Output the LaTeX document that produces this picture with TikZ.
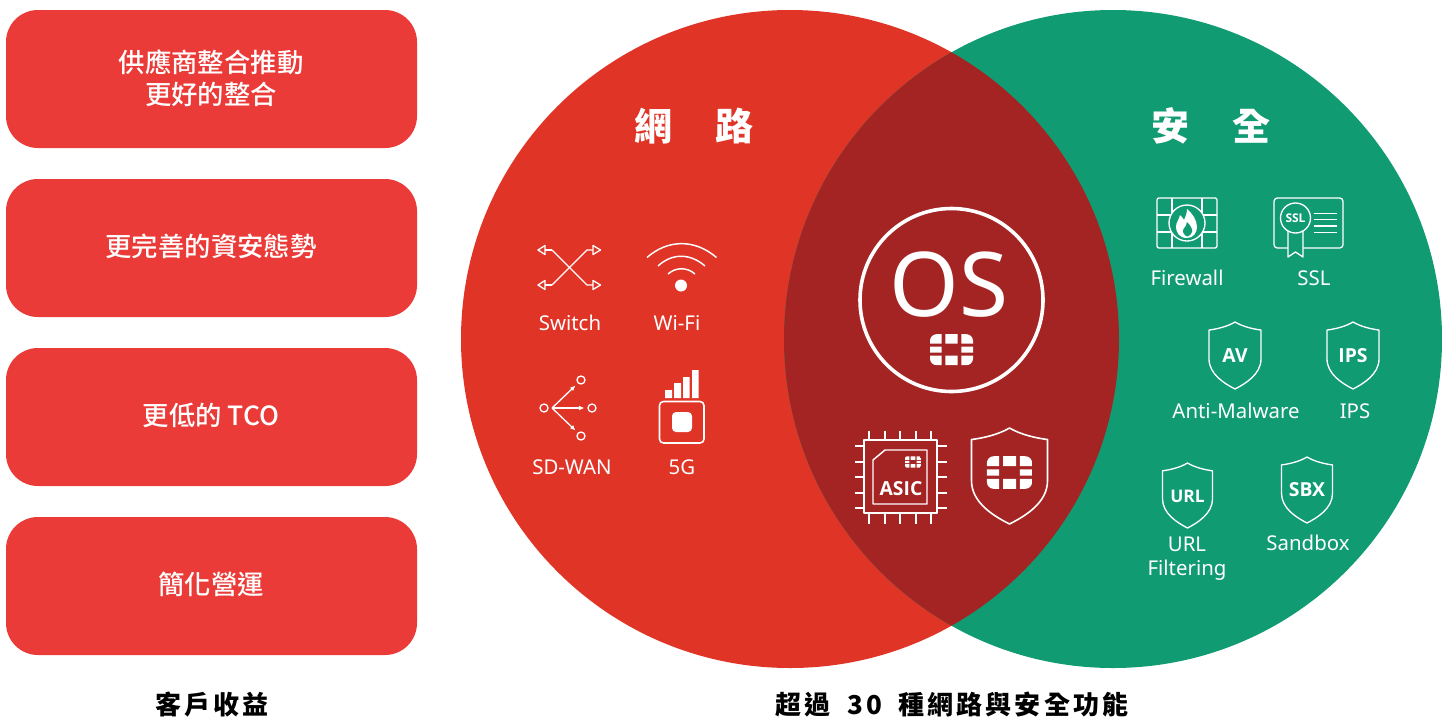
\documentclass[tikz,border=0pt]{standalone}
\usetikzlibrary{arrows.meta}
\usepackage{fontspec}
\setmainfont{Noto Sans}
\newfontfamily\iconbold{Open Sans}
\newfontfamily\cjk{Noto Sans CJK TC}
\newfontfamily\cjkmed{Noto Sans CJK TC Medium}
\newfontfamily\cjksp[LetterSpace=12]{Noto Sans CJK TC}
\definecolor{boxred}{HTML}{EA3B38}
\definecolor{netred}{HTML}{E03426}
\definecolor{secgreen}{HTML}{109B72}
\definecolor{osred}{HTML}{A32423}
\tikzset{
  benefit/.style={fill=boxred,rounded corners=24pt},
  benefittext/.style={text=white,align=center,font=\cjkmed\fontsize{19.8}{24}\selectfont},
  heading/.style={text=white,font=\cjk\fontsize{28.5}{32}\selectfont\bfseries},
  caption/.style={text=black,font=\cjksp\fontsize{19.5}{22}\selectfont\bfseries},
  iconlabel/.style={text=white,align=center,font=\fontsize{15.3}{18}\selectfont},
  iconline/.style={draw=white,line width=1pt,line join=round},
  shieldtext/.style={text=white,font=\iconbold\fontsize{14.5}{16}\selectfont\bfseries}
}
% centre x, centre y, scale, corner radius
\newcommand\fortlogo[4]{%
  \begin{scope}[shift={(#1,#2)},scale=#3]
    \begin{scope}
      \clip[rounded corners=#4] (-21.5,-15.5) rectangle (21.5,15.5);
      \fill[white] (-21.5,-15.5) rectangle (-9.8,-6) (-6.2,-15.5) rectangle (6.2,-6) (9.8,-15.5) rectangle (21.5,-6);
      \fill[white] (-21.5,-3) rectangle (-9.8,3) (9.8,-3) rectangle (21.5,3);
      \fill[white] (-21.5,6) rectangle (-9.8,15.5) (-6.2,6) rectangle (6.2,15.5) (9.8,6) rectangle (21.5,15.5);
    \end{scope}
  \end{scope}}
% centre x, top y, half width, height, line width
\newcommand\shieldicon[5]{%
  \begin{scope}[shift={(#1,#2)},xscale=#3,yscale=#4]
    \draw[white,line width=#5,line join=round]
      (0,0) .. controls (0.3,0.07) and (0.7,0.105) .. (1,0.12)
      -- (1,0.55) .. controls (1,0.78) and (0.4,0.92) .. (0,1)
      .. controls (-0.4,0.92) and (-1,0.78) .. (-1,0.55)
      -- (-1,0.12) .. controls (-0.7,0.105) and (-0.3,0.07) .. (0,0) -- cycle;
  \end{scope}}
\begin{document}
\begin{tikzpicture}[x=0.75pt,y=-0.75pt]
\useasboundingbox (0,0) rectangle (1442,719);
% benefit boxes
\fill[benefit] (6,10) rectangle (417,148);
\fill[benefit] (6,179) rectangle (417,317);
\fill[benefit] (6,348) rectangle (417,486);
\fill[benefit] (6,517) rectangle (417,655);
\node[benefittext] (b1) at (211,78) {供應商整合推動\\更好的整合};
\node[benefittext] (b2) at (211,246) {更完善的資安態勢};
\node[benefittext] (b3) at (211,415) {更低的 TCO};
\node[benefittext] (b4) at (211,584) {簡化營運};
\node[caption] (c1) at (212,705) {客戶收益};
\node[caption] (c2) at (952,705) {超過\hspace{5.5pt} 30 \hspace{5.5pt}種網路與安全功能};
% venn
\fill[netred] (790,339) circle [radius=329];
\fill[secgreen] (1113,339) circle [radius=329];
\begin{scope}
  \clip (790,339) circle [radius=329];
  \fill[osred] (1113,339) circle [radius=329];
\end{scope}
\node[heading] (net) at (694,126) {網\hspace{32.5pt}路};
\node[heading] (sec) at (1211,126) {安\hspace{32pt}全};
% Switch
\draw[iconline] (552,250) -- (587,285) -- (593,285);
\draw[iconline] (552,285) -- (587,250) -- (593,250);
\draw[iconline] (545,250) -- (552,250);
\draw[iconline] (545,285) -- (552,285);
\draw[iconline] (545,245.5) -- (538,250) -- (545,254.5) -- cycle;
\draw[iconline] (545,280.5) -- (538,285) -- (545,289.5) -- cycle;
\draw[iconline] (593,245.5) -- (600.5,250) -- (593,254.5) -- cycle;
\draw[iconline] (593,280.5) -- (600.5,285) -- (593,289.5) -- cycle;
\node[iconlabel] (switch) at (570,323) {Switch};
% WiFi
\draw[iconline,line width=1.1pt] (647,257.5) .. controls (668,239) and (695,239) .. (716.5,257.5);
\draw[iconline,line width=1.1pt] (658,266) .. controls (672,253) and (690,253) .. (705,266);
\draw[iconline,line width=1.1pt] (668,274) .. controls (676,267) and (687,267) .. (695,274);
\fill[white] (681,285.5) circle [radius=6];
\node[iconlabel] (wifi) at (677,323) {Wi-Fi};
% SD-WAN
\draw[iconline] (544,408) circle [radius=4];
\draw[iconline] (592,408) circle [radius=4];
\draw[iconline] (581,380) circle [radius=4];
\draw[iconline] (581,436) circle [radius=4];
\draw[iconline,-{Latex[length=4pt,width=3.5pt]}] (552,408) -- (575.5,385.5);
\draw[iconline,-{Latex[length=4pt,width=3.5pt]}] (552,408) -- (584.5,408);
\draw[iconline,-{Latex[length=4pt,width=3.5pt]}] (552,408) -- (575.5,430.5);
\node[iconlabel] (sdwan) at (572,467) {SD-WAN};
% 5G
\fill[white] (665,390) rectangle (672,398) (674,383) rectangle (681,398) (683,377) rectangle (689.5,398) (692,370) rectangle (698.5,398);
\draw[white,line width=1.2pt,rounded corners=3pt] (659.5,401.5) rectangle (704,443);
\fill[white,rounded corners=3pt] (672,412) rectangle (692,432);
\node[iconlabel] (fiveg) at (682,467) {5G};
% OS
\draw[white,line width=2.7pt] (951.5,300) circle [radius=91.5];
\node[text=white,font=\fontsize{67}{70}\selectfont] (os) at (949,285) {OS};
\fortlogo{951.5}{349.7}{1}{5pt}
% ASIC
\draw[iconline,line width=1.1pt] (864,440) rectangle (937,513);
\foreach \x in {869,885,900,916,931}{
  \draw[iconline,line width=1.1pt] (\x,431) -- (\x,440) (\x,513) -- (\x,524);}
\foreach \y in {446,462,477,493,508}{
  \draw[iconline,line width=1.1pt] (855,\y) -- (864,\y) (937,\y) -- (947,\y);}
\draw[iconline,line width=1.1pt] (873,460) -- (885,450) -- (927,450) -- (927,504) -- (873,504) -- cycle;
\node[shieldtext] (asic) at (901,489) {ASIC};
\fortlogo{913}{462}{0.37}{1.5pt}
% big shield
\shieldicon{1009.5}{428}{38}{96}{1.2pt}
\fortlogo{1009.5}{472.5}{1.05}{5pt}
% Firewall
\draw[iconline,rounded corners=1.5pt] (1157,198) rectangle (1217,248);
\draw[iconline] (1172,198) -- (1172,248) (1202,198) -- (1202,248) (1157,215) -- (1217,215) (1157,232) -- (1217,232);
\draw[iconline,fill=secgreen] (1187,223) circle [radius=18];
\fill[white] (1187,238) .. controls (1179,238) and (1176,232) .. (1176,227)
  .. controls (1176,222) and (1179,220) .. (1180,215)
  .. controls (1182,217) and (1183,218) .. (1184,220)
  .. controls (1186,216) and (1187,212) .. (1187,209)
  .. controls (1192,213) and (1197,220) .. (1197,227)
  .. controls (1197,233) and (1193,238) .. (1187,238) -- cycle;
\fill[secgreen] (1187,236.5) .. controls (1184,235) and (1182,232) .. (1183.5,229)
  .. controls (1185,227) and (1187,225) .. (1187,222)
  .. controls (1190,225) and (1193,229) .. (1192,232)
  .. controls (1191.5,234.5) and (1189.5,236) .. (1187,236.5) -- cycle;
\node[iconlabel] (firewall) at (1187,278) {Firewall};
% SSL
\draw[iconline,rounded corners=2.5pt] (1274,198) rectangle (1343,248);
\draw[iconline,fill=secgreen] (1288,228) -- (1288,257) -- (1295.5,252) -- (1303,257) -- (1303,228);
\draw[iconline,fill=secgreen] (1295.5,218) circle [radius=15];
\node[text=white,font=\iconbold\fontsize{9}{10}\selectfont\bfseries] (ssltxt) at (1295.5,218) {SSL};
\draw[iconline,line width=.9pt] (1314,213.3) -- (1337,213.3) (1314,219.7) -- (1337,219.7) (1314,226) -- (1337,226) (1314,232.3) -- (1337,232.3);
\node[iconlabel] (ssl) at (1314,278) {SSL};
% security shields
\shieldicon{1235}{322}{26}{67}{1pt}
\node[shieldtext] (av) at (1235,356) {AV};
\node[iconlabel] (am) at (1236,411) {Anti-Malware};
\shieldicon{1353}{322}{26}{67}{1pt}
\node[shieldtext] (ipsicon) at (1353,356) {IPS};
\node[iconlabel] (ips) at (1355,411) {IPS};
\shieldicon{1187.5}{463}{25}{65}{1pt}
\node[shieldtext,font=\iconbold\fontsize{13}{15}\selectfont\bfseries] (urlicon) at (1187.5,496) {URL};
\node[iconlabel,align=center] (url) at (1187,559) {URL\\Filtering};
\shieldicon{1307}{457}{25.5}{66}{1pt}
\node[shieldtext] (sbx) at (1307,490) {SBX};
\node[iconlabel] (sandbox) at (1308,543) {Sandbox};
\end{tikzpicture}
\end{document}
